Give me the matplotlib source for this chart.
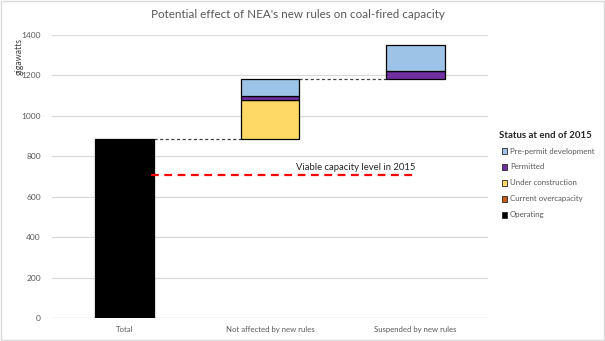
import numpy as np
import matplotlib.pyplot as plt
from matplotlib.patches import Rectangle

plt.rcParams['font.family'] = ['Lato', 'DejaVu Sans']

# data
categories = ['Total', 'Not affected by new rules', 'Suspended by new rules']
statuses = ['Pre-permit development', 'Permitted', 'Under construction',
            'Current overcapacity', 'Operating']
colors = ['#9DC3E6', '#7030A0', '#FFD966', '#C55A11', '#000000']

operating = [884, 0, 0]
overcapacity = [0, 0, 0]
under_construction = [0, 194, 0]
permitted = [0, 20, 37]
pre_permit = [0, 85, 130]
viable_2015 = 707

grey = '#595959'

fig = plt.figure(figsize=(6.05, 3.41), dpi=100)
ax = fig.add_axes([0.086, 0.0674, 0.7206, 0.83])

x = np.arange(len(categories))
width = 0.405

stack = [operating, overcapacity, under_construction, permitted, pre_permit]
stack_colors = ['#000000', '#C55A11', '#FFD966', '#7030A0', '#9DC3E6']

# waterfall bases
base = np.zeros(len(categories))
totals = np.zeros(len(categories))
run = 0
for i in range(len(categories)):
    s = sum(v[i] for v in stack)
    base[i] = run
    run += s
    totals[i] = run

bottom = base.copy()
for vals, c in zip(stack, stack_colors):
    vals = np.array(vals, dtype=float)
    mask = vals > 0
    ax.bar(x[mask], vals[mask], width, bottom=bottom[mask], color=c,
           edgecolor='black', linewidth=0.9, zorder=3)
    bottom += vals

# connectors
for i in range(len(categories) - 1):
    ax.plot([x[i] + width / 2, x[i + 1] - width / 2], [totals[i], totals[i]],
            ls=(0, (2.5, 2)), color='#404040', lw=0.9, zorder=2)

# viable capacity line
ax.plot([x[0] + 0.18, x[2]], [viable_2015, viable_2015], ls=(0, (3.5, 2.5)),
        color='#FF0000', lw=1.6, zorder=4)
ax.text(x[2], viable_2015 + 15, 'Viable capacity level in 2015', ha='right',
        va='bottom', fontsize=6.8, color='#262626')

ax.set_xlim(-0.5, 2.5)
ax.set_ylim(0, 1400)
ax.set_yticks(np.arange(0, 1401, 200))
ax.set_xticks(x)
ax.set_xticklabels(categories)
ax.tick_params(axis='both', length=0, labelcolor=grey)
ax.tick_params(axis='y', pad=8, labelsize=6)
ax.tick_params(axis='x', pad=6, labelsize=5.6)
ax.grid(axis='y', color='#D9D9D9', lw=0.9, zorder=0)
for sp in ax.spines.values():
    sp.set_visible(False)
ax.axhline(0, color='#D9D9D9', lw=0.9, zorder=1)

ax.set_title("Potential effect of NEA's new rules on coal-fired capacity",
             fontsize=8.4, color=grey, pad=12, x=0.565)
fig.text(0.031, 0.835, 'gigawatts', rotation=90, fontsize=6.3, color='#404040',
         ha='center', va='center')

# legend
fig.text(0.824, 0.604, 'Status at end of 2015', fontsize=6.9, weight='bold',
         color='#262626', va='center')
for k, (lab, c) in enumerate(zip(statuses, colors)):
    yy = 0.557 - k * 0.0465
    fig.patches.append(Rectangle((0.829, yy - 0.009), 0.0085, 0.017,
                                 transform=fig.transFigure, facecolor=c,
                                 edgecolor='#262626', linewidth=0.6))
    fig.text(0.843, yy, lab, fontsize=5.7, color=grey, va='center')

# border
fig.patches.append(Rectangle((0.001, 0.002), 0.997, 0.995,
                             transform=fig.transFigure, fill=False,
                             edgecolor='#D9D9D9', linewidth=1))

fig.savefig('out.png', dpi=100)
